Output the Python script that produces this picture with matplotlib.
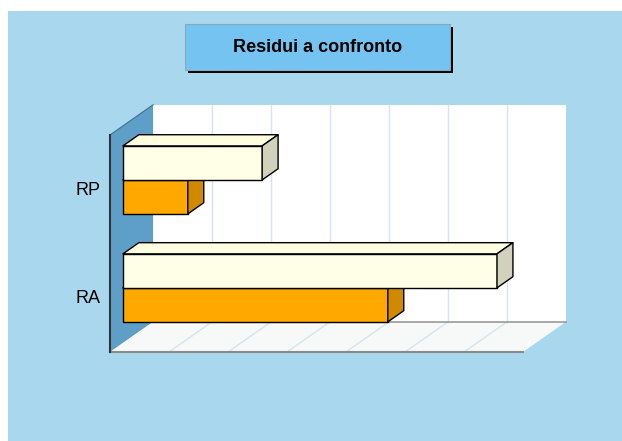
import numpy as np
import matplotlib.pyplot as plt
from matplotlib.patches import Polygon, Rectangle

plt.rcParams['font.family'] = ['Liberation Sans', 'DejaVu Sans']

# dati (unita' = una linea di griglia)
categorie = ['RA', 'RP']
serie_crema = [6.34, 2.36]
serie_arancio = [4.49, 1.10]
titolo = 'Residui a confronto'

W, H = 622, 441
fig = plt.figure(figsize=(W / 100, H / 100), dpi=100, facecolor='white')

# sfondo azzurro
fig.add_artist(Rectangle((8 / W, 0), (W - 8) / W, (H - 11) / H, transform=fig.transFigure,
                         facecolor='#A9D8EE', edgecolor='none', zorder=0))

# riquadro del titolo con ombra
bx, by, bw, bh = 185, H - 70, 265, 46
fig.add_artist(Rectangle(((bx + 3) / W, (by - 3) / H), bw / W, bh / H, transform=fig.transFigure,
                         facecolor='black', edgecolor='none', zorder=1))
fig.add_artist(Rectangle((bx / W, by / H), bw / W, bh / H, transform=fig.transFigure,
                         facecolor='#75C3F0', edgecolor='#8AA8B8', lw=0.8, zorder=2))
fig.text((bx + bw / 2) / W, (by + bh / 2) / H, titolo, ha='center', va='center',
         fontsize=13, fontweight='bold', zorder=3)

ax = fig.add_axes([110 / W, (H - 352) / H, 413 / W, 217 / H])
xmax = 7
ybot, ytop = -0.51, 1.5
ax.set_xlim(0, xmax)
ax.set_ylim(ybot, ytop)
ax.patch.set_alpha(0)
for s in ax.spines.values():
    s.set_visible(False)
ax.set_xticks([])
ax.set_yticks(range(len(categorie)))
ax.set_yticklabels(categorie)
ax.tick_params(axis='y', length=0, pad=7, labelsize=13)

# profondita' prospettica (frazione 1 = parete di fondo)
DX, DY = 0.73, 0.28


def p(x, y, d):
    return (x + d * DX, y + d * DY)


def faccia(pts, fc, ec='black', lw=1.0, z=2):
    ax.add_patch(Polygon(pts, closed=True, facecolor=fc, edgecolor=ec, lw=lw,
                         clip_on=False, zorder=z, joinstyle='round'))


# parete di fondo, parete sinistra, pavimento
faccia([p(0, ybot, 1), p(xmax, ybot, 1), p(xmax, ytop, 1), p(0, ytop, 1)], 'white', 'none', z=1)
faccia([p(0, ybot, 0), p(0, ytop, 0), p(0, ytop, 1), p(0, ybot, 1)], '#5E9FC7', 'none', z=1)
faccia([p(0, ybot, 0), p(xmax, ybot, 0), p(xmax, ybot, 1), p(0, ybot, 1)], '#F7F8F8', 'none', z=1)

grid_col = '#D3E5EE'
for i in range(1, xmax):
    x0, y0 = p(i, ybot, 1)
    x1, y1 = p(i, ytop, 1)
    ax.plot([x0, x1], [y0, y1], color=grid_col, lw=1, clip_on=False, zorder=1.5)
    x2, y2 = p(i, ybot, 0)
    ax.plot([x0, x2], [y0, y2], color=grid_col, lw=1, clip_on=False, zorder=1.5)

# bordi
for (a, b, c, lw) in [((0, ybot, 1), (xmax, ybot, 1), '#9A9A9A', 1.2),
                      ((0, ybot, 0), (xmax, ybot, 0), '#8A8A8A', 1.5),
                      ((0, ytop, 0), (0, ytop, 1), '#3E6F90', 0.8),
                      ((0, ybot, 0), (0, ytop, 0), '#333333', 1.5)]:
    pa, pb = p(*a), p(*b)
    ax.plot([pa[0], pb[0]], [pa[1], pb[1]], color=c, lw=lw, clip_on=False, zorder=1.8)

# barre 3D
alt = 0.315
d0, d1 = 0.30, 0.67


def barra(v, y0, y1, c_front, c_top, c_side):
    faccia([p(0, y0, d0), p(v, y0, d0), p(v, y1, d0), p(0, y1, d0)], c_front, z=3)
    faccia([p(0, y1, d0), p(v, y1, d0), p(v, y1, d1), p(0, y1, d1)], c_top, z=3)
    faccia([p(v, y0, d0), p(v, y0, d1), p(v, y1, d1), p(v, y1, d0)], c_side, z=3)


for k in range(len(categorie)):
    barra(serie_arancio[k], k - alt, k, '#FFA800', '#FFB020', '#D08A00')
    barra(serie_crema[k], k, k + alt, '#FFFEE6', '#FFFDE0', '#D2D2BC')

fig.savefig('out.png', dpi=100)
